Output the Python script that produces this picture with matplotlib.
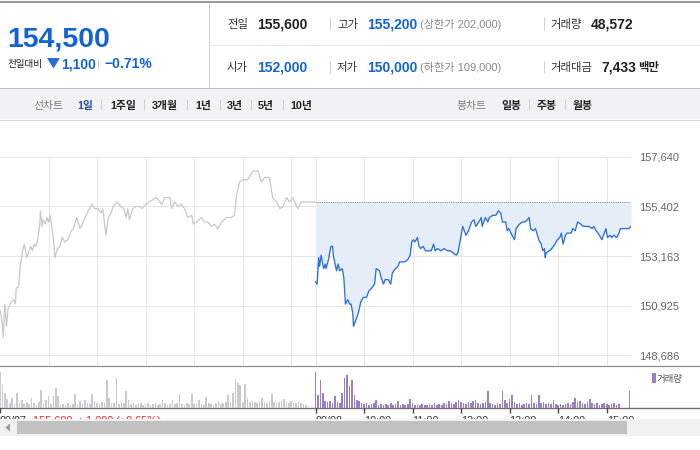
import numpy as np
import matplotlib
matplotlib.use('Agg')
import matplotlib.pyplot as plt
from matplotlib.patches import Rectangle, Polygon

FAM = ['Liberation Sans', 'Noto Sans CJK KR', 'DejaVu Sans']
plt.rcParams['font.family'] = FAM

# ---------------- data ----------------
prev_min = [0, 2, 4, 6, 8, 10, 14, 17, 19, 20,
            23, 25, 28, 30, 33, 36, 38, 40, 42, 44,
            46, 49, 50, 52, 53, 56, 58, 60, 62, 64,
            66, 68, 71, 74, 77, 80, 84, 88, 91, 95,
            99, 103, 109, 114, 117, 121, 125, 127, 131, 134,
            137, 140, 145, 149, 153, 156, 158, 160, 164, 168,
            172, 176, 180, 184, 189, 193, 200, 204, 210, 212,
            216, 220, 224, 228, 232, 237, 239, 243, 249, 253,
            257, 261, 265, 269, 274, 280, 286, 290, 292, 296,
            300, 306, 313, 319, 323, 327, 333, 337, 342, 346,
            350, 354, 358, 362, 368, 372, 379, 385, 390]
prev_price = [150700, 150400, 149500, 151000, 150000, 150800, 151100, 151200, 151000, 151700,
              151800, 152700, 153400, 153700, 153100, 153400, 153600, 153400, 153700, 153600,
              153800, 154500, 155200, 154500, 154800, 154600, 154900, 154700, 155000, 154500,
              153900, 153100, 153500, 153600, 154000, 153800, 153900, 154300, 154400, 154900,
              154400, 154700, 155200, 155500, 155300, 155300, 155100, 155300, 154100, 154900,
              155100, 155400, 155600, 155400, 155300, 154900, 155300, 154800, 155300, 155400,
              155400, 155300, 155500, 155600, 155700, 155800, 155500, 155800, 155800, 155300,
              155600, 155400, 155500, 155300, 154900, 155000, 154600, 154700, 154900, 154700,
              154700, 154500, 154600, 154400, 154700, 154900, 154900, 155000, 155800, 156500,
              156600, 156600, 157000, 157000, 156500, 156700, 156700, 155800, 155600, 155300,
              155400, 155800, 155600, 155800, 155300, 155600, 155600, 155600, 155600]

today_min = [390, 392, 394, 395, 397, 400, 402, 403, 406, 409,
             411, 412, 416, 418, 420, 423, 425, 427, 430, 432,
             434, 436, 437, 440, 443, 446, 449, 453, 456, 459,
             461, 463, 465, 469, 471, 474, 476, 480, 483, 485,
             489, 492, 494, 497, 500, 504, 507, 509, 511, 513,
             516, 518, 520, 523, 526, 529, 533, 536, 538, 541,
             545, 549, 553, 557, 560, 564, 566, 568, 570, 572,
             574, 576, 579, 583, 586, 588, 592, 595, 596, 600,
             603, 605, 609, 613, 616, 619, 621, 625, 627, 629,
             633, 636, 638, 642, 646, 649, 652, 654, 656, 659,
             662, 666, 669, 671, 673, 674, 675, 679, 682, 686,
             689, 692, 694, 696, 699, 701, 706, 708, 711, 714,
             718, 721, 725, 728, 732, 734, 737, 741, 744, 747,
             749, 751, 754, 756, 759, 762, 764, 767, 777, 780]
today_price = [152000, 151900, 153100, 152700, 153200, 152600, 152800, 152600, 153000, 153600,
               153600, 153200, 152500, 152800, 152500, 152600, 152200, 151000, 151200, 151000,
               151000, 150600, 150000, 150300, 150600, 151100, 151300, 151300, 151600, 151700,
               151800, 151900, 152600, 152500, 152200, 151900, 152100, 152100, 151900, 152400,
               152600, 152700, 152900, 152900, 152900, 153000, 153200, 153800, 153900, 153800,
               154000, 153600, 153500, 153600, 153400, 153400, 153400, 153700, 153400, 153500,
               153400, 153500, 153400, 153400, 153300, 153200, 153300, 153700, 154100, 154500,
               154300, 154100, 154300, 154700, 154800, 154500, 154700, 154900, 154500, 154900,
               154700, 154900, 155000, 155000, 155200, 155100, 154700, 154700, 154300, 154400,
               154100, 153900, 154400, 154600, 154700, 154700, 154800, 154900, 154400, 154300,
               154400, 153900, 153700, 153400, 153500, 153100, 153300, 153400, 153500, 153700,
               153900, 154000, 154200, 153700, 154100, 154200, 154200, 154400, 154300, 154700,
               154600, 154500, 154500, 154500, 154400, 154500, 154300, 154100, 153900, 154200,
               154400, 154000, 154100, 154000, 154100, 154000, 154100, 154400, 154400, 154500]

prev_close = 155600

prev_vol = [1440, 920, 600, 360, 200, 400, 160, 600, 200, 320,
            160, 240, 160, 400, 200, 120, 240, 720, 200, 320,
            480, 160, 480, 800, 480, 120, 160, 120, 200, 120,
            160, 560, 160, 280, 160, 320, 200, 160, 560, 280,
            200, 160, 240, 200, 1120, 400, 160, 200, 1200, 160,
            240, 200, 680, 320, 160, 200, 120, 160, 200, 120,
            160, 200, 120, 160, 200, 120, 160, 320, 200, 120,
            160, 320, 160, 200, 560, 160, 120, 200, 160, 560,
            160, 200, 320, 160, 120, 440, 200, 160, 120, 200,
            280, 160, 200, 240, 520, 240, 600, 1160, 1000, 920,
            240, 960, 400, 240, 280, 240, 200, 280, 400, 240,
            200, 280, 560, 240, 200, 240, 280, 360, 240, 200,
            280, 240, 200, 240, 200, 160, 120]
today_vol = [1440, 520, 1120, 600, 280, 240, 280, 200, 480, 240,
             200, 600, 1200, 1320, 880, 1120, 520, 320, 280, 200,
             160, 200, 120, 160, 200, 320, 120, 160, 120, 160,
             120, 200, 120, 160, 280, 120, 160, 120, 160, 360,
             200, 120, 120, 120, 160, 120, 120, 160, 120, 200,
             120, 160, 120, 200, 160, 280, 200, 160, 240, 320,
             240, 200, 160, 240, 200, 280, 320, 200, 160, 200,
             240, 680, 200, 160, 120, 200, 160, 680, 320, 200,
             360, 520, 240, 160, 200, 120, 160, 200, 160, 520,
             200, 160, 520, 200, 240, 160, 200, 160, 320, 160,
             120, 160, 120, 160, 200, 160, 240, 400, 240, 280,
             200, 160, 240, 360, 200, 160, 200, 120, 160, 200,
             160, 120, 160, 200, 120, 160]
close_auction_min = [778]
close_auction_vol = [680]

ytick_vals = [148686, 150925, 153163, 155402, 157640]
ytick_labels = ['148,686', '150,925', '153,163', '155,402', '157,640']
grid_minutes = [60, 120, 180, 240, 300, 360, 390, 450, 510, 570, 630, 690, 750]
xlabel_minutes = [0, 390, 450, 510, 570, 630, 690, 750]
xlabels = ['09/07', '09/08', '10:00', '11:00', '12:00', '13:00', '14:00', '15:00']

# ---------------- figure ----------------
W, H = 700, 450
fig = plt.figure(figsize=(7, 4.5), dpi=100)
fig.patch.set_facecolor('white')


def fa(x0, y0, x1, y1):
    return [x0 / W, 1 - y1 / H, (x1 - x0) / W, (y1 - y0) / H]


bg = fig.add_axes([0, 0, 1, 1], zorder=0)
bg.set_xlim(0, W)
bg.set_ylim(H, 0)
bg.axis('off')

BLUE = '#1263d8'
PX = 0.72


def T(x, y, s, size=8.2, color='#333333', weight='normal', ha='left', va='baseline'):
    bg.text(x, y, s, fontsize=size, color=color, fontweight=weight, ha=ha, va=va, family=FAM)


def vsep(x, y0, y1, color='#d0d0d0'):
    bg.plot([x, x], [y0, y1], color=color, lw=1 * PX, solid_capstyle='butt')


# top strip
bg.plot([0, W], [1.5, 1.5], color='#9a9a9a', lw=2 * PX)
# header dividers
vsep(208.5, 3, 88, '#cfcfcf')
bg.plot([208.5, W], [45, 45], color='#e8e8e8', lw=1 * PX)

# big price
T(7, 46.5, '154,500', 20.5, BLUE, 'bold')
T(7, 67, '전일대비', 6.9, '#222222')
bg.add_patch(Polygon([(47, 58), (60, 58), (53.5, 68.5)], closed=True, color='#2a6fd6', lw=0))
T(61, 68.3, '1,100', 10, BLUE, 'bold')
vsep(98, 58, 69)
T(104, 68.3, '\u22120.71%', 10, BLUE, 'bold')

# right panel rows
for yb, lab1, v1, c1, lab2, v2, par, lab3 in [
    (28.3, '전일', '155,600', '#222222', '고가', '155,200', '(상한가 202,000)', '거래량'),
    (71.7, '시가', '152,000', BLUE, '저가', '150,000', '(하한가 109,000)', '거래대금')]:
    T(227, yb - 0.3, lab1, 8.2, '#333333')
    T(257, yb, v1, 10, c1, 'bold')
    vsep(330, yb - 11, yb + 1.5)
    T(337, yb - 0.3, lab2, 8.2, '#333333')
    T(367, yb, v2, 10, BLUE, 'bold')
    T(420, yb - 0.3, par, 8, '#888888')
    vsep(544, yb - 11, yb + 1.5)
    T(550, yb - 0.3, lab3, 8.2, '#333333')
T(591, 28.3, '48,572', 10, '#222222', 'bold')
T(601, 71.7, '7,433', 10, '#222222', 'bold')
T(638, 71.4, '백만', 8.2, '#222222', 'bold')

# toolbar
bg.add_patch(Rectangle((0, 88), W, 31, facecolor='#f1f2f6', edgecolor='none'))
bg.plot([0, W], [88, 88], color='#bdbdbd', lw=1 * PX)
bg.plot([0, W], [119.5, 119.5], color='#d4d4d4', lw=1 * PX)
T(33, 108.5, '선차트', 7.8, '#7a7a7a')
T(77, 108.5, '1일', 7.8, '#2d4f9e', 'bold')
items = [(110, '1주일'), (152, '3개월'), (195, '1년'), (227, '3년'), (258, '5년'), (290, '10년')]
for x, s in items:
    T(x, 108.5, s, 7.8, '#222222', 'bold')
for x in [101, 144, 187, 220, 251, 283, 529, 565]:
    vsep(x, 99, 110, '#cccccc')
T(456, 108.5, '봉차트', 7.8, '#7a7a7a')
T(501, 108.5, '일봉', 7.8, '#222222', 'bold')
T(537, 108.5, '주봉', 7.8, '#222222', 'bold')
T(573, 108.5, '월봉', 7.8, '#222222', 'bold')

# panel separators
bg.plot([0, W], [365.7, 365.7], color='#8a8a8a', lw=1.2 * PX)
bg.plot([0, W], [408.3, 408.3], color='#6f6f6f', lw=1.4 * PX)

# ---------------- price axes ----------------
ax = fig.add_axes(fa(0, 156.7, 631, 366), zorder=1)
ax.set_facecolor('none')
ax.set_xlim(0, 780)
ax.set_ylim(148210, 157640)
for s in ax.spines.values():
    s.set_visible(False)
ax.set_xticks(grid_minutes)
ax.tick_params(axis='x', length=0, labelbottom=False)
ax.set_yticks(ytick_vals)
ax.set_yticklabels(ytick_labels)
ax.yaxis.tick_right()
ax.tick_params(axis='y', length=0, pad=5.8, labelsize=8, labelcolor='#666666')
ax.grid(True, color='#e6e6e6', lw=1.0 * PX)
ax.set_axisbelow(True)

ax.fill_between(today_min, today_price, prev_close, color='#e5edf8', lw=0, zorder=1)
ax.hlines(prev_close, 390, 780, colors='#555555', linestyles=(0, (1, 1.3)), lw=0.8 * PX, zorder=2)
ax.plot(prev_min, prev_price, color='#c6c8cd', lw=0.9, zorder=3)
ax.plot(today_min, today_price, color='#2b70dc', lw=0.95, zorder=4)

# ---------------- volume axes ----------------
vax = fig.add_axes(fa(0, 368, 631, 408.3), zorder=1)
vax.set_facecolor('none')
vax.set_xlim(0, 780)
vax.set_ylim(0, 1612)
for s in vax.spines.values():
    s.set_visible(False)
prev_vol_min = np.arange(0, 3 * len(prev_vol), 3)
today_vol_min = np.arange(390, 390 + 3 * len(today_vol), 3)
vax.bar(prev_vol_min, prev_vol, width=2.0, color='#c8cacf', lw=0)
vax.bar(today_vol_min, today_vol, width=2.0, color='#9a7fc6', lw=0)
vax.bar(close_auction_min, close_auction_vol, width=1.4, color='#9a7fc6', lw=0)
vax.set_yticks([])
vax.set_xticks(xlabel_minutes)
vax.set_xticklabels(xlabels, ha='left')
vax.tick_params(axis='x', direction='out', length=3.6, width=1.0, color='#444444',
                labelsize=7.8, labelcolor='#333333', pad=2.3)

# legend
bg.add_patch(Rectangle((652, 373), 3.5, 10, color='#9a7fc6', lw=0))
T(657, 382, '거래량', 6.8, '#555555')

# red previous-day summary under axis
T(33, 416.2, '155,600 \u25b21,000 (+0.65%)', 7.8, '#e8232a', va='top')

# ---------------- scrollbar overlay ----------------
sb = fig.add_axes(fa(0, 419, 700, 450), zorder=5)
sb.set_xlim(0, W)
sb.set_ylim(450, 419)
sb.axis('off')
sb.add_patch(Rectangle((0, 419), W, 31, facecolor='white', edgecolor='none'))
sb.add_patch(Rectangle((0, 419), W, 17, facecolor='#f0f0f0', edgecolor='none'))
sb.add_patch(Rectangle((17, 421), 610, 13, facecolor='#c1c1c1', edgecolor='none'))
sb.add_patch(Polygon([(5.5, 427.5), (10, 423.5), (10, 431.5)], closed=True, color='#9a9a9a', lw=0))

fig.savefig('out.png', dpi=100)
